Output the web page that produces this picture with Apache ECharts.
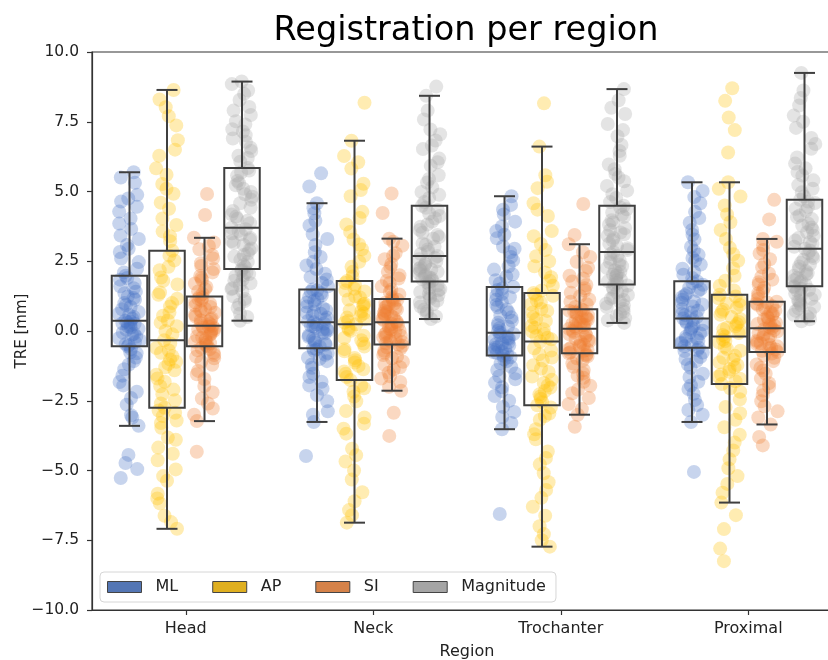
<!DOCTYPE html>
<html>
<head>
<meta charset="utf-8">
<script src="https://cdn.jsdelivr.net/npm/echarts@6/dist/echarts.min.js"></script>
<style>html,body{margin:0;padding:0;background:#fff}#chart{width:828px;height:660px}</style>
</head>
<body>
<div id="chart"></div>
<script>
const regions = ['Head', 'Neck', 'Trochanter', 'Proximal'];
const hues = ['ML', 'AP', 'SI', 'Magnitude'];
const yTicks = [-10, -7.5, -5, -2.5, 0, 2.5, 5, 7.5, 10];

// box statistics per region: [lower whisker, Q1, median, Q3, upper whisker]
const boxML  = [[-3.40, -0.55, 0.37, 1.98, 5.69], [-3.26, -0.62, 0.31, 1.49, 4.58], [-3.52, -0.88, -0.06, 1.58, 4.83], [-3.26, -0.60, 0.45, 1.78, 5.33]];
const boxAP  = [[-7.09, -2.75, -0.33, 2.88, 8.64], [-6.87, -1.76, 0.24, 1.79, 6.82], [-7.73, -2.66, -0.38, 1.36, 6.61], [-6.15, -1.90, -0.20, 1.30, 5.33]];
const boxSI  = [[-3.23, -0.55, 0.19, 1.24, 3.34], [-2.14, -0.48, 0.31, 1.15, 3.31], [-3.00, -0.80, 0.08, 0.78, 3.11], [-3.35, -0.75, 0.10, 1.05, 3.30]];
const boxMag = [[0.37, 2.22, 3.70, 5.84, 8.94], [0.43, 1.77, 2.69, 4.49, 8.43], [0.29, 1.67, 2.83, 4.49, 8.67], [0.35, 1.60, 2.95, 4.70, 9.25]];

// individual TRE values (strip points)
const headML = [-5.27, -4.95, -4.73, -4.44, -3.40, -3.02, -2.64, -2.18, -1.83, -1.37, -1.08, -0.77, -0.55, -0.47, -0.33, -0.26, -0.13, -0.06, 0.04, 0.13, 0.17, 0.26, 0.31, 0.37, 0.44, 0.57, 0.68, 0.86, 0.93, 1.12, 1.24, 1.41, 1.53, 1.72, 1.84, 1.98, 2.23, 2.47, 2.83, 3.08, 3.42, 3.66, 4.03, 4.28, 4.64, 4.88, 5.31, 5.69,
  -3.1, -2.4, -1.95, -1.6, -1.2, -0.95, -0.8, -0.65, -0.5, -0.4, -0.2, -0.1, 0.08, 0.22, 0.28, 0.34, 0.5, 0.62, 0.78, 1.0, 1.18, 1.35, 1.6, 1.9, 2.1, 2.6, 2.95, 3.3, 3.85, 4.45, 4.75, 5.5];
const headAP = [-7.09, -6.62, -6.18, -5.83, -5.37, -4.96, -4.63, -4.18, -3.82, -3.47, -3.21, -2.93, -2.75, -2.48, -2.27, -1.98, -1.82, -1.57, -1.41, -1.18, -1.02, -0.78, -0.61, -0.33, -0.12, 0.17, 0.38, 0.66, 0.88, 1.16, 1.38, 1.67, 1.92, 2.18, 2.53, 2.88, 3.22, 3.57, 4.03, 4.38, 4.92, 5.27, 5.83, 6.28, 6.84, 7.37, 8.02, 8.64,
  -6.85, -6.0, -5.2, -4.4, -3.9, -3.3, -3.05, -2.85, -2.6, -2.1, -1.7, -1.3, -1.1, -0.9, -0.7, -0.45, 0.0, 0.3, 0.55, 1.0, 1.3, 1.8, 2.3, 2.7, 3.4, 3.8, 4.6, 5.1, 5.6, 6.5, 7.7, 8.3];
const headSI = [-4.33, -3.23, -2.78, -2.42, -1.97, -1.72, -1.43, -1.21, -0.98, -0.86, -0.69, -0.61, -0.55, -0.44, -0.38, -0.29, -0.23, -0.14, -0.09, 0.01, 0.06, 0.09, 0.16, 0.19, 0.24, 0.34, 0.41, 0.52, 0.58, 0.71, 0.79, 0.91, 0.98, 1.09, 1.15, 1.24, 1.42, 1.58, 1.83, 1.97, 2.22, 2.43, 2.72, 2.93, 3.17, 3.34, 4.16, 4.91,
  -3.0, -2.6, -2.2, -1.55, -1.1, -0.92, -0.78, -0.65, -0.5, -0.41, -0.34, -0.19, -0.04, 0.03, 0.12, 0.17, 0.28, 0.38, 0.46, 0.65, 0.75, 0.86, 1.03, 1.19, 1.33, 1.5, 1.7, 1.9, 2.1, 2.33, 2.6, 3.05];
const headMag = [0.37, 0.62, 0.83, 1.07, 1.24, 1.42, 1.53, 1.71, 1.84, 1.96, 2.04, 2.16, 2.22, 2.36, 2.48, 2.67, 2.78, 2.96, 3.08, 3.22, 3.33, 3.47, 3.58, 3.70, 3.86, 4.02, 4.18, 4.42, 4.58, 4.81, 4.98, 5.22, 5.38, 5.57, 5.68, 5.84, 6.07, 6.28, 6.57, 6.78, 7.02, 7.23, 7.52, 7.74, 8.03, 8.28, 8.62, 8.94,
  0.5, 0.95, 1.15, 1.5, 1.65, 1.8, 2.0, 2.1, 2.3, 2.55, 2.72, 2.9, 3.15, 3.28, 3.5, 3.65, 3.95, 4.1, 4.3, 4.7, 4.9, 5.1, 5.3, 5.75, 6.2, 6.45, 6.9, 7.15, 7.4, 7.9, 8.5, 8.85];

const neckML = [-4.48, -3.26, -2.88, -2.52, -2.07, -1.82, -1.53, -1.32, -1.08, -0.96, -0.79, -0.71, -0.62, -0.49, -0.41, -0.28, -0.21, -0.09, 0.02, 0.07, 0.16, 0.19, 0.27, 0.31, 0.41, 0.48, 0.62, 0.69, 0.82, 0.88, 1.02, 1.08, 1.22, 1.28, 1.41, 1.49, 1.72, 1.93, 2.22, 2.48, 2.82, 3.08, 3.47, 3.78, 4.22, 4.58, 5.18, 5.65,
  -3.0, -2.3, -1.95, -1.65, -1.2, -1.0, -0.85, -0.66, -0.55, -0.45, -0.34, -0.15, -0.05, 0.05, 0.12, 0.24, 0.36, 0.55, 0.65, 0.75, 0.95, 1.15, 1.35, 1.45, 1.6, 1.85, 2.05, 2.35, 2.65, 3.3, 3.95, 4.4];
const neckAP = [-6.87, -6.42, -5.78, -5.32, -4.68, -4.22, -3.68, -3.32, -2.87, -2.52, -2.18, -1.96, -1.76, -1.53, -1.37, -1.13, -0.97, -0.73, -0.56, -0.33, -0.17, 0.01, 0.11, 0.24, 0.36, 0.48, 0.63, 0.74, 0.89, 0.98, 1.13, 1.24, 1.42, 1.51, 1.66, 1.79, 2.12, 2.48, 2.93, 3.28, 3.82, 4.27, 4.83, 5.28, 5.82, 6.27, 6.82, 8.18,
  -6.6, -6.1, -5.0, -4.45, -3.5, -3.1, -2.35, -2.05, -1.65, -1.45, -1.25, -1.05, -0.65, -0.45, -0.25, 0.05, 0.3, 0.42, 0.55, 0.7, 0.95, 1.2, 1.45, 1.72, 1.95, 2.3, 2.7, 3.1, 3.55, 4.05, 5.05, 6.05];
const neckSI = [-3.76, -2.93, -2.14, -1.83, -1.62, -1.38, -1.21, -0.98, -0.86, -0.71, -0.63, -0.53, -0.48, -0.39, -0.33, -0.23, -0.17, -0.07, 0.01, 0.09, 0.14, 0.22, 0.25, 0.31, 0.39, 0.44, 0.53, 0.59, 0.68, 0.73, 0.82, 0.87, 0.96, 1.01, 1.09, 1.15, 1.31, 1.48, 1.72, 1.88, 2.12, 2.28, 2.57, 2.79, 3.06, 3.31, 4.23, 4.93,
  -2.0, -1.7, -1.5, -1.3, -1.1, -0.92, -0.78, -0.58, -0.44, -0.36, -0.27, -0.2, -0.12, -0.03, 0.05, 0.18, 0.35, 0.48, 0.56, 0.64, 0.77, 0.85, 0.98, 1.12, 1.22, 1.4, 1.6, 1.8, 2.0, 2.4, 2.7, 3.2];
const neckMag = [0.43, 0.61, 0.77, 0.96, 1.09, 1.23, 1.33, 1.46, 1.54, 1.64, 1.69, 1.74, 1.77, 1.86, 1.92, 2.01, 2.07, 2.17, 2.23, 2.33, 2.39, 2.49, 2.57, 2.69, 2.84, 3.02, 3.14, 3.31, 3.44, 3.62, 3.74, 3.92, 4.04, 4.21, 4.34, 4.49, 4.77, 4.98, 5.32, 5.58, 5.92, 6.18, 6.52, 6.83, 7.22, 7.58, 8.43, 8.76,
  0.52, 0.7, 0.88, 1.02, 1.16, 1.28, 1.4, 1.5, 1.81, 1.89, 1.97, 2.12, 2.2, 2.28, 2.44, 2.62, 2.76, 2.92, 3.08, 3.37, 3.52, 3.82, 4.12, 4.42, 4.62, 4.88, 5.15, 5.45, 6.05, 6.65, 7.05, 7.9];

const trochML = [-6.56, -3.52, -3.08, -2.72, -2.33, -2.02, -1.73, -1.52, -1.28, -1.16, -1.01, -0.94, -0.88, -0.79, -0.73, -0.63, -0.57, -0.47, -0.41, -0.31, -0.25, -0.15, -0.11, -0.06, 0.09, 0.21, 0.37, 0.49, 0.66, 0.77, 0.93, 1.04, 1.21, 1.33, 1.47, 1.58, 1.82, 2.03, 2.32, 2.53, 2.82, 3.03, 3.32, 3.58, 3.92, 4.18, 4.52, 4.83,
  -3.3, -2.9, -2.5, -2.15, -1.85, -1.62, -1.4, -1.08, -0.84, -0.76, -0.68, -0.6, -0.52, -0.44, -0.28, -0.2, 0.0, 0.15, 0.3, 0.56, 0.85, 1.12, 1.28, 1.52, 1.7, 1.95, 2.2, 2.65, 2.95, 3.45, 3.75, 4.35];
const trochAP = [-7.73, -7.28, -6.62, -5.98, -5.42, -4.78, -4.32, -3.88, -3.52, -3.18, -2.96, -2.74, -2.66, -2.43, -2.27, -2.03, -1.86, -1.63, -1.47, -1.23, -1.06, -0.83, -0.62, -0.38, -0.24, -0.11, 0.06, 0.19, 0.36, 0.49, 0.66, 0.79, 0.96, 1.09, 1.26, 1.36, 1.62, 1.93, 2.32, 2.68, 3.12, 3.58, 4.12, 4.58, 5.12, 5.58, 6.61, 8.16,
  -7.5, -7.0, -6.3, -5.7, -5.1, -4.55, -3.7, -3.05, -2.55, -2.35, -2.15, -1.95, -1.75, -1.35, -0.95, -0.7, -0.3, -0.18, -0.02, 0.12, 0.42, 0.72, 1.02, 1.3, 1.45, 1.8, 2.1, 2.5, 2.9, 3.4, 4.35, 5.35];
const trochSI = [-3.43, -3.00, -2.62, -2.23, -1.96, -1.68, -1.52, -1.28, -1.16, -0.98, -0.91, -0.83, -0.80, -0.71, -0.65, -0.55, -0.49, -0.39, -0.33, -0.23, -0.17, -0.07, 0.01, 0.08, 0.13, 0.21, 0.25, 0.33, 0.37, 0.45, 0.49, 0.57, 0.61, 0.69, 0.72, 0.78, 0.96, 1.13, 1.37, 1.53, 1.77, 1.98, 2.27, 2.48, 2.82, 3.11, 3.44, 4.55,
  -2.8, -2.4, -2.1, -1.82, -1.6, -1.4, -1.06, -0.87, -0.76, -0.68, -0.6, -0.52, -0.36, -0.28, -0.12, -0.04, 0.11, 0.17, 0.23, 0.29, 0.41, 0.53, 0.65, 0.75, 0.86, 1.05, 1.25, 1.45, 1.65, 1.88, 2.15, 2.65];
const trochMag = [0.29, 0.46, 0.61, 0.79, 0.91, 1.06, 1.16, 1.29, 1.37, 1.49, 1.56, 1.63, 1.67, 1.78, 1.86, 1.98, 2.06, 2.18, 2.26, 2.38, 2.46, 2.59, 2.69, 2.83, 2.97, 3.13, 3.25, 3.41, 3.53, 3.69, 3.81, 3.97, 4.09, 4.25, 4.36, 4.49, 4.77, 5.03, 5.37, 5.63, 5.97, 6.28, 6.67, 6.98, 7.42, 7.78, 8.27, 8.67,
  0.38, 0.54, 0.7, 0.86, 0.98, 1.11, 1.22, 1.43, 1.72, 1.82, 1.92, 2.02, 2.12, 2.32, 2.52, 2.76, 2.9, 3.05, 3.33, 3.47, 3.61, 3.89, 4.17, 4.43, 4.62, 4.9, 5.2, 5.5, 5.8, 6.45, 7.2, 8.0];

const proxML = [-5.05, -3.26, -2.83, -2.47, -2.08, -1.82, -1.53, -1.32, -1.08, -0.93, -0.77, -0.68, -0.60, -0.49, -0.41, -0.29, -0.21, -0.09, 0.01, 0.11, 0.19, 0.29, 0.35, 0.45, 0.57, 0.66, 0.79, 0.88, 1.01, 1.12, 1.21, 1.34, 1.43, 1.56, 1.66, 1.78, 2.02, 2.23, 2.52, 2.73, 3.02, 3.28, 3.62, 3.88, 4.27, 4.58, 5.02, 5.33,
  -3.0, -2.65, -2.25, -1.95, -1.65, -1.2, -1.0, -0.72, -0.55, -0.45, -0.35, -0.25, -0.05, 0.05, 0.24, 0.4, 0.5, 0.62, 0.73, 0.95, 1.06, 1.28, 1.5, 1.72, 1.9, 2.12, 2.38, 2.62, 2.88, 3.45, 4.05, 4.8];
const proxAP = [-8.25, -7.80, -7.10, -6.60, -6.15, -5.48, -4.92, -4.28, -3.72, -3.18, -2.72, -2.18, -1.90, -1.71, -1.56, -1.37, -1.22, -1.03, -0.89, -0.71, -0.57, -0.41, -0.31, -0.20, -0.07, 0.06, 0.17, 0.32, 0.43, 0.58, 0.69, 0.83, 0.93, 1.07, 1.17, 1.30, 1.62, 1.98, 2.52, 2.98, 3.62, 4.18, 4.82, 5.33, 6.40, 7.20, 7.65, 8.25, 8.70,
  -5.8, -5.2, -4.6, -4.0, -3.45, -2.95, -2.45, -2.05, -1.8, -1.63, -1.46, -1.3, -1.12, -0.96, -0.64, -0.36, -0.14, 0.0, 0.12, 0.25, 0.5, 0.76, 0.99, 1.24, 1.45, 1.8, 2.25, 2.75, 3.3, 3.9, 4.5, 5.1];
const proxSI = [-4.10, -3.80, -3.35, -2.88, -2.52, -2.13, -1.87, -1.53, -1.32, -1.08, -0.96, -0.81, -0.75, -0.66, -0.60, -0.50, -0.44, -0.34, -0.28, -0.18, -0.12, -0.02, 0.03, 0.10, 0.19, 0.25, 0.35, 0.41, 0.51, 0.57, 0.67, 0.73, 0.83, 0.89, 0.99, 1.05, 1.26, 1.43, 1.67, 1.84, 2.06, 2.28, 2.57, 2.78, 3.07, 3.30, 4.00, 4.70,
  -3.1, -2.7, -2.3, -2.0, -1.7, -1.42, -1.2, -0.88, -0.71, -0.63, -0.55, -0.47, -0.39, -0.23, -0.07, 0.07, 0.14, 0.22, 0.3, 0.46, 0.62, 0.78, 0.94, 1.02, 1.15, 1.35, 1.55, 1.75, 1.95, 2.4, 2.9, 3.2];
const proxMag = [0.35, 0.51, 0.64, 0.81, 0.92, 1.06, 1.15, 1.27, 1.34, 1.45, 1.51, 1.57, 1.60, 1.73, 1.83, 1.97, 2.07, 2.21, 2.31, 2.45, 2.55, 2.69, 2.79, 2.95, 3.11, 3.24, 3.41, 3.54, 3.71, 3.84, 4.01, 4.14, 4.31, 4.44, 4.59, 4.70, 4.97, 5.23, 5.57, 5.83, 6.22, 6.53, 6.92, 7.28, 7.72, 8.08, 8.62, 9.25,
  0.42, 0.58, 0.72, 0.87, 0.99, 1.1, 1.3, 1.48, 1.66, 1.78, 1.9, 2.02, 2.14, 2.38, 2.62, 2.88, 3.02, 3.18, 3.33, 3.62, 3.78, 4.08, 4.38, 4.64, 4.82, 5.1, 5.4, 5.7, 6.0, 6.7, 7.5, 8.35];

const pointsML = [headML, neckML, trochML, proxML];
const pointsAP = [headAP, neckAP, trochAP, proxAP];
const pointsSI = [headSI, neckSI, trochSI, proxSI];
const pointsMag = [headMag, neckMag, trochMag, proxMag];

const pointColors = ['#4472C4', '#FFC000', '#ED7D31', '#A5A5A5'];
const patchColors = ['#5476B4', '#DFAF20', '#D58249', '#A5A5A5'];
const boxLine = '#3f3f3f';

const allBoxes = [boxML, boxAP, boxSI, boxMag];
const allPoints = [pointsML, pointsAP, pointsSI, pointsMag];

// hidden dodge axis: 21 slots at -0.5 + 0.2k over the region axis range
const slots = [];
for (let k = 0; k <= 20; k++) slots.push('s' + k);
function slotOf(region, hue) { return 5 * region + 1 + hue; }

const fontFamily = 'DejaVu Sans';

const series = [];
hues.forEach((name, h) => {
  const data = [];
  allPoints[h].forEach((vals, i) => vals.forEach(v => data.push([slotOf(i, h), v])));
  series.push({
    type: 'scatter', name: name, xAxisIndex: 1, yAxisIndex: 0,
    symbolSize: 14, z: 2,
    itemStyle: { color: pointColors[h], opacity: 0.3 },
    emphasis: { disabled: true },
    data: data
  });
});

const boxData = [];
hues.forEach((name, h) => {
  allBoxes[h].forEach((s, i) => boxData.push([slotOf(i, h)].concat(s)));
});

function renderBox(params, api) {
  const k = api.value(0);
  const lo = api.coord([k, api.value(1)]);
  const q1 = api.coord([k, api.value(2)]);
  const md = api.coord([k, api.value(3)]);
  const q3 = api.coord([k, api.value(4)]);
  const hi = api.coord([k, api.value(5)]);
  const cx = lo[0];
  const w = api.coord([k + 1, 0])[0] - cx;
  const xl = cx - w / 2;
  const xr = cx + w / 2;
  const inset = 1;
  const capHalf = w * 0.28;
  const st = { stroke: boxLine, lineWidth: 2, fill: null };
  return {
    type: 'group',
    children: [
      { type: 'rect', shape: { x: xl + inset, y: q3[1], width: w - 2 * inset, height: q1[1] - q3[1] }, style: st },
      { type: 'line', shape: { x1: xl + inset, y1: md[1], x2: xr - inset, y2: md[1] }, style: st },
      { type: 'line', shape: { x1: cx, y1: q1[1], x2: cx, y2: lo[1] }, style: st },
      { type: 'line', shape: { x1: cx, y1: q3[1], x2: cx, y2: hi[1] }, style: st },
      { type: 'line', shape: { x1: cx - capHalf, y1: lo[1], x2: cx + capHalf, y2: lo[1] }, style: st },
      { type: 'line', shape: { x1: cx - capHalf, y1: hi[1], x2: cx + capHalf, y2: hi[1] }, style: st }
    ]
  };
}

series.push({
  type: 'custom', name: 'boxes', xAxisIndex: 1, yAxisIndex: 0, z: 5,
  renderItem: renderBox,
  encode: { x: 0, y: [1, 2, 3, 4, 5] },
  silent: true,
  data: boxData
});

const chart = echarts.init(document.getElementById('chart'), null, { renderer: 'canvas' });
chart.setOption({
  animation: false,
  backgroundColor: '#ffffff',
  textStyle: { fontFamily: fontFamily },
  graphic: [{
    type: 'text', x: 466, y: 31, z: 10,
    style: { text: 'Registration per region', fontFamily: fontFamily, fontSize: 33.5, fill: '#000', textAlign: 'center', textVerticalAlign: 'middle' }
  }],
  grid: { left: 92, right: -14, top: 52, bottom: 50, outerBoundsMode: 'none', containLabel: false,
    show: true, borderColor: '#333', borderWidth: 1.2, backgroundColor: 'transparent' },
  legend: {
    left: 100, top: 572,
    orient: 'horizontal',
    icon: 'rect', itemWidth: 34, itemHeight: 11, itemGap: 34,
    backgroundColor: '#ffffff', borderColor: '#d6d6d6', borderWidth: 1, borderRadius: 4,
    padding: [7, 10, 7, 7],
    textStyle: { fontFamily: fontFamily, fontSize: 16, color: '#222', padding: [0, 0, 0, 9] },
    data: hues.map((n, h) => ({ name: n, itemStyle: { color: patchColors[h], borderColor: '#444', borderWidth: 1, opacity: 1 } }))
  },
  xAxis: [{
    type: 'category', data: regions, boundaryGap: true, position: 'bottom',
    axisLine: { show: true, onZero: false, lineStyle: { color: '#333', width: 1.2 } },
    axisTick: { show: true, alignWithLabel: true, length: 5, lineStyle: { color: '#333', width: 1.2 } },
    axisLabel: { fontFamily: fontFamily, fontSize: 16, color: '#222', margin: 11 },
    splitLine: { show: false },
    name: 'Region', nameLocation: 'middle', nameGap: 34,
    nameTextStyle: { fontFamily: fontFamily, fontSize: 16, color: '#222' }
  }, {
    type: 'category', data: slots, boundaryGap: false, show: false,
    axisLine: { show: false, onZero: false },
    jitter: 22, jitterOverlap: true
  }],
  yAxis: [{
    type: 'value', min: yTicks[0], max: yTicks[yTicks.length - 1], interval: yTicks[1] - yTicks[0],
    axisLine: { show: true, onZero: false, lineStyle: { color: '#333', width: 1.2 } },
    axisTick: { show: true, length: 5, lineStyle: { color: '#333', width: 1.2 } },
    axisLabel: { fontFamily: fontFamily, fontSize: 15.5, color: '#222', margin: 13,
      formatter: v => v.toFixed(1).replace('-', '\u2212') },
    splitLine: { show: false },
    name: 'TRE [mm]', nameLocation: 'middle', nameGap: 62, nameRotate: 90, nameMoveOverlap: false,
    nameTextStyle: { fontFamily: fontFamily, fontSize: 15, color: '#222' }
  }],
  series: series
});
</script>
</body>
</html>
